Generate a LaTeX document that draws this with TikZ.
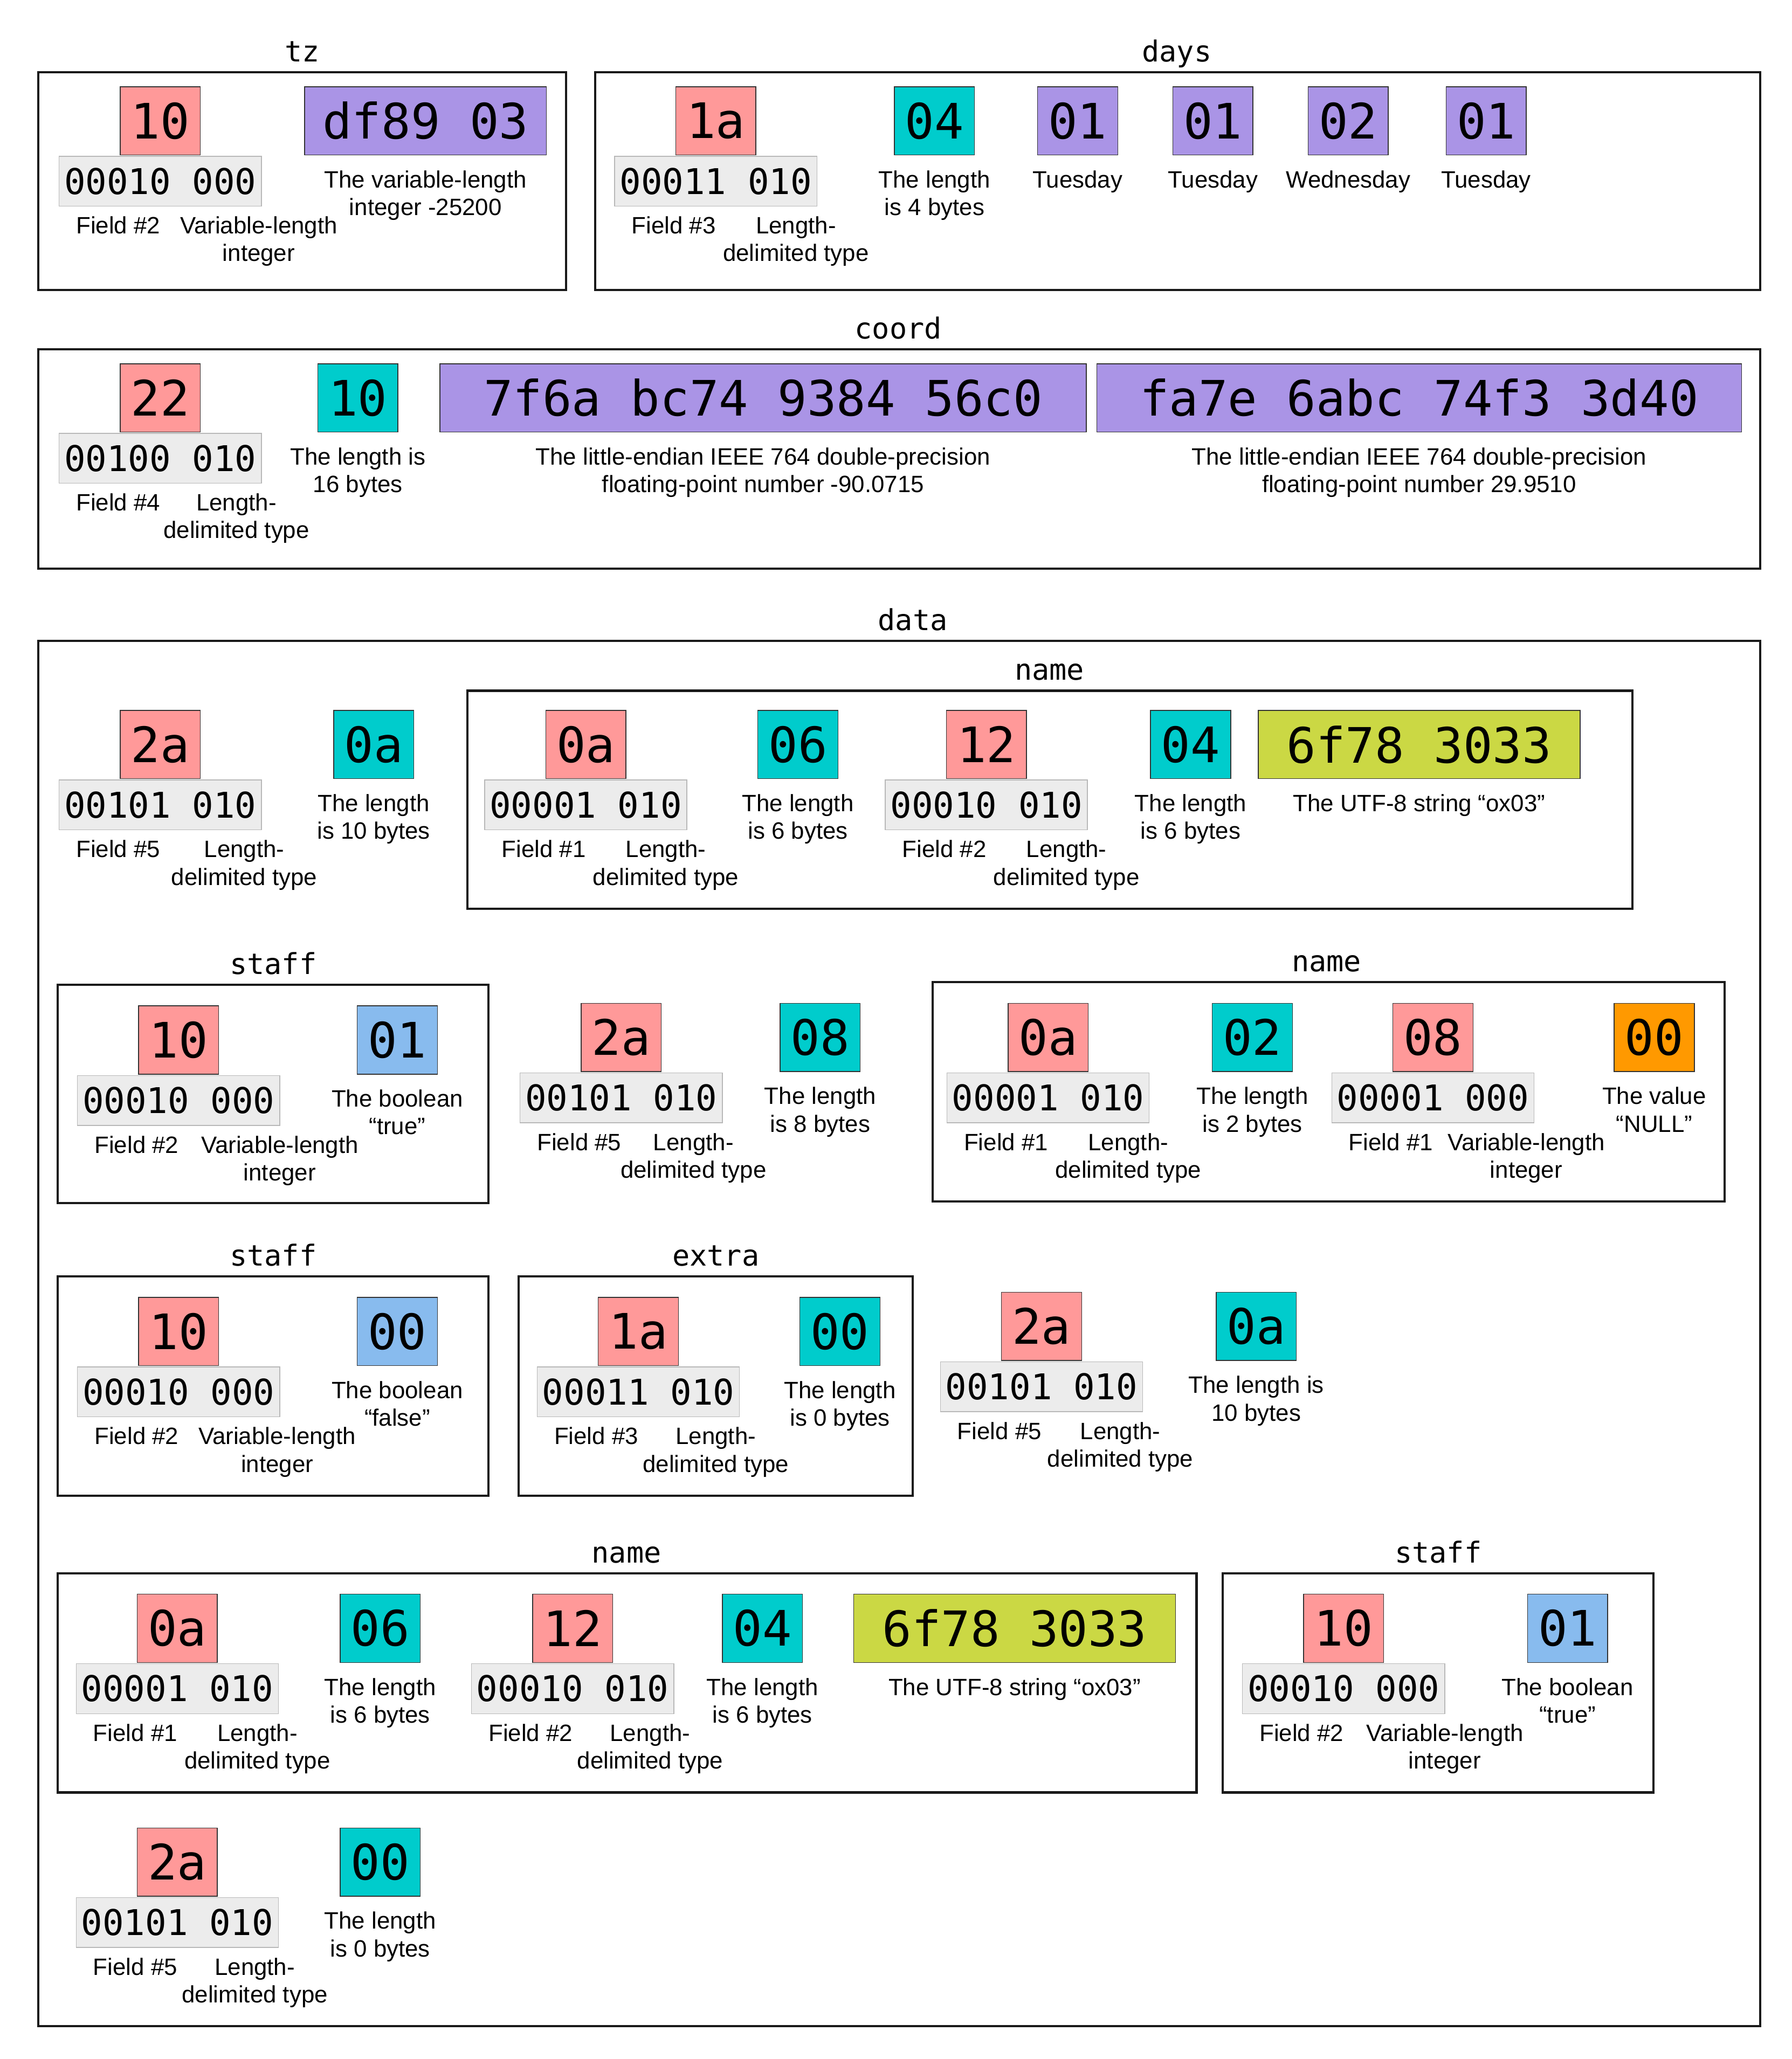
\documentclass[tikz,border=0pt]{standalone}
\usepackage{fontspec}
\setmainfont{Liberation Sans}
\newfontfamily\hexfam{DejaVu Sans Mono}
\newcommand\hexfont{\hexfam\fontsize{37.2}{44}\selectfont}
\newcommand\bitfont{\hexfam\fontsize{27}{32}\selectfont}
\newcommand\ttlfont{\hexfam\fontsize{22}{26}\selectfont}
\newcommand\lblfont{\fontsize{18}{21}\selectfont}
\definecolor{keyc}{HTML}{FF9999}
\definecolor{bitc}{HTML}{ECECEC}
\definecolor{lenc}{HTML}{00CCCC}
\definecolor{numc}{HTML}{AA94E6}
\definecolor{strc}{HTML}{CBD844}
\definecolor{boolc}{HTML}{88BBEE}
\definecolor{nullc}{HTML}{FF9900}
\tikzset{
  bytebox/.style={draw=black!80, line width=0.6pt, minimum width=61pt, minimum height=52pt, inner sep=0pt, font=\hexfont},
  bitbox/.style={draw=black!28, fill=bitc, line width=0.6pt, minimum width=154pt, minimum height=38pt, inner sep=0pt, font=\bitfont},
  lbl/.style={anchor=base, align=center, inner sep=0pt, font=\lblfont},
  ttl/.style={anchor=base, inner sep=0pt, font=\ttlfont},
  frame/.style={line width=1.7pt, draw=black!90}
}
% id, gray-left, top, hex, bits, field, type, type offset
% (multi-line nodes are anchored at the baseline of their last line)
\newcommand\keygrp[8]{%
  \node[bytebox,fill=keyc] (#1k) at ({#2+77},{#3+26}) {#4};
  \node[bitbox] (#1b) at ({#2+77},{#3+72}) {#5};
  \node[lbl] (#1f) at ({#2+45},{#3+112}) {#6};
  \node[lbl] (#1t) at ({#2+#8},{#3+133}) {#7};
}
% id, x1, top, width, color, hex, two-line label
\newcommand\valbox[7]{%
  \node[bytebox,fill=#5,minimum width=#4pt] (#1v) at ({#2+#4/2},{#3+26}) {#6};
  \node[lbl] (#1l) at ({#2+#4/2},{#3+98}) {#7};
}
% id, x1, top, width, color, hex, one-line label
\newcommand\valboxone[7]{%
  \node[bytebox,fill=#5,minimum width=#4pt] (#1v) at ({#2+#4/2},{#3+26}) {#6};
  \node[lbl] (#1l) at ({#2+#4/2},{#3+77}) {#7};
}
\newcommand\LD{Length-\\delimited type}
\newcommand\VL{Variable-length\\integer}
\begin{document}
\begin{tikzpicture}[x=1pt,y=-1pt]
\useasboundingbox (0,0) rectangle (1364,1568);
\fill[white] (0,0) rectangle (1364,1568);

% ---- tz
\draw[frame] (29,55) rectangle (431,221);
\node[ttl] (ttz) at (230,47) {tz};
\keygrp{tz}{45}{66}{10}{00010 000}{Field \#2}{\VL}{152}
\valbox{tzv}{232}{66}{184}{numc}{df89 03}{The variable-length\\integer -25200}

% ---- days
\draw[frame] (453,55) rectangle (1340,221);
\node[ttl] (tdays) at (896,47) {days};
\keygrp{dy}{468}{66}{1a}{00011 010}{Field \#3}{\LD}{138}
\valbox{dyl}{681}{66}{61}{lenc}{04}{The length\\is 4 bytes}
\valboxone{dya}{790}{66}{61}{numc}{01}{Tuesday}
\valboxone{dyb}{893}{66}{61}{numc}{01}{Tuesday}
\valboxone{dyc}{996}{66}{61}{numc}{02}{Wednesday}
\valboxone{dyd}{1101}{66}{61}{numc}{01}{Tuesday}

% ---- coord
\draw[frame] (29,266) rectangle (1340,433);
\node[ttl] (tcoord) at (684,258) {coord};
\keygrp{co}{45}{277}{22}{00100 010}{Field \#4}{\LD}{135}
\valbox{col}{242}{277}{61}{lenc}{10}{The length is\\16 bytes}
\valbox{coa}{335}{277}{492}{numc}{7f6a bc74 9384 56c0}{The little-endian IEEE 764 double-precision\\floating-point number -90.0715}
\valbox{cob}{835}{277}{491}{numc}{fa7e 6abc 74f3 3d40}{The little-endian IEEE 764 double-precision\\floating-point number 29.9510}

% ---- data
\draw[frame] (29,488) rectangle (1340,1543);
\node[ttl] (tdata) at (695,480) {data};

% row 1
\keygrp{da}{45}{541}{2a}{00101 010}{Field \#5}{\LD}{141}
\valbox{dal}{254}{541}{61}{lenc}{0a}{The length\\is 10 bytes}
\draw[frame] (356,526) rectangle (1243,692);
\node[ttl] (tnamea) at (799,518) {name};
\keygrp{na}{369}{541}{0a}{00001 010}{Field \#1}{\LD}{138}
\valbox{nal}{577}{541}{61}{lenc}{06}{The length\\is 6 bytes}
\keygrp{nb}{674}{541}{12}{00010 010}{Field \#2}{\LD}{138}
\valbox{nbl}{876}{541}{61}{lenc}{04}{The length\\is 6 bytes}
\valboxone{nbs}{958}{541}{245}{strc}{6f78 3033}{The UTF-8 string “ox03”}

% row 2
\draw[frame] (44,750) rectangle (372,916);
\node[ttl] (tstaffa) at (208,742) {staff};
\keygrp{sa}{59}{766}{10}{00010 000}{Field \#2}{\VL}{154}
\valbox{sab}{272}{766}{61}{boolc}{01}{The boolean\\“true”}
\keygrp{db}{396}{764}{2a}{00101 010}{Field \#5}{\LD}{132}
\valbox{dbl}{594}{764}{61}{lenc}{08}{The length\\is 8 bytes}
\draw[frame] (710,748) rectangle (1313,915);
\node[ttl] (tnameb) at (1010,740) {name};
\keygrp{nc}{721}{764}{0a}{00001 010}{Field \#1}{\LD}{138}
\valbox{ncl}{923}{764}{61}{lenc}{02}{The length\\is 2 bytes}
\keygrp{nd}{1014}{764}{08}{00001 000}{Field \#1}{\VL}{148}
\valbox{ndn}{1229}{764}{61}{nullc}{00}{The value\\“NULL”}

% row 3
\draw[frame] (44,972) rectangle (372,1139);
\node[ttl] (tstaffb) at (208,964) {staff};
\keygrp{sb}{59}{988}{10}{00010 000}{Field \#2}{\VL}{152}
\valbox{sbb}{272}{988}{61}{boolc}{00}{The boolean\\“false”}
\draw[frame] (395,972) rectangle (695,1139);
\node[ttl] (textra) at (545,964) {extra};
\keygrp{ex}{409}{988}{1a}{00011 010}{Field \#3}{\LD}{136}
\valbox{exl}{609}{988}{61}{lenc}{00}{The length\\is 0 bytes}
\keygrp{dc}{716}{984}{2a}{00101 010}{Field \#5}{\LD}{137}
\valbox{dcl}{926}{984}{61}{lenc}{0a}{The length is\\10 bytes}

% row 4
\draw[frame] (44,1198) rectangle (911,1365);
\node[ttl] (tnamec) at (477,1190) {name};
\keygrp{ne}{58}{1214}{0a}{00001 010}{Field \#1}{\LD}{138}
\valbox{nel}{259}{1214}{61}{lenc}{06}{The length\\is 6 bytes}
\keygrp{nf}{359}{1214}{12}{00010 010}{Field \#2}{\LD}{136}
\valbox{nfl}{550}{1214}{61}{lenc}{04}{The length\\is 6 bytes}
\valboxone{nfs}{650}{1214}{245}{strc}{6f78 3033}{The UTF-8 string “ox03”}
\draw[frame] (931,1198) rectangle (1259,1365);
\node[ttl] (tstaffc) at (1095,1190) {staff};
\keygrp{sc}{946}{1214}{10}{00010 000}{Field \#2}{\VL}{154}
\valbox{scb}{1163}{1214}{61}{boolc}{01}{The boolean\\“true”}

% row 5
\keygrp{dd}{58}{1392}{2a}{00101 010}{Field \#5}{\LD}{136}
\valbox{ddl}{259}{1392}{61}{lenc}{00}{The length\\is 0 bytes}
\end{tikzpicture}
\end{document}
